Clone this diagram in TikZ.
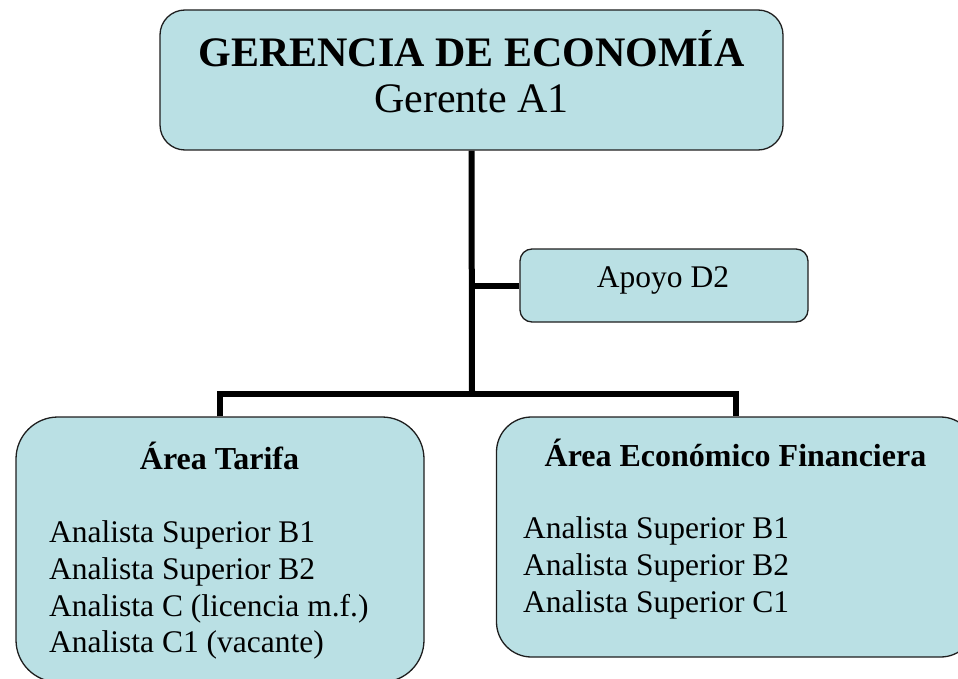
\documentclass[tikz,border=0pt]{standalone}
\usepackage{fontspec}
\setmainfont{Liberation Serif}
\usetikzlibrary{backgrounds}
\definecolor{boxfill}{RGB}{186,224,228}
\definecolor{boxline}{RGB}{30,30,30}
\tikzset{
  orgbox/.style={draw=boxline, line width=1.3pt, fill=boxfill, inner sep=0pt},
  conn/.style={draw=black, line width=6pt, line join=miter},
  lbl/.style={inner sep=0pt, anchor=base},
  lbll/.style={inner sep=0pt, anchor=base west},
}
\begin{document}
\begin{tikzpicture}[x=1pt,y=1pt]
\useasboundingbox (0,0) rectangle (958,-679);
% boxes
\node[orgbox, rounded corners=25pt, minimum width=623pt, minimum height=140pt] (top) at (471.5,-80) {};
\node[orgbox, rounded corners=12pt, minimum width=288pt, minimum height=73pt] (apoyo) at (664,-285.5) {};
\node[orgbox, rounded corners=42pt, minimum width=408pt, minimum height=265pt] (lbox) at (220,-549.5) {};
\node[orgbox, rounded corners=35pt, minimum width=479pt, minimum height=240pt] (rbox) at (736,-537) {};
% texts
\node[lbl] (t1) at (471.5,-67) {\fontsize{42}{50}\selectfont\bfseries GERENCIA DE ECONOMÍA};
\node[lbl] (t2) at (471.5,-113) {\fontsize{42}{50}\selectfont Gerente A1};
\node[lbl] (ta) at (663,-287) {\fontsize{31.5}{36}\selectfont Apoyo D2};
\node[lbl] (lt) at (219.5,-469) {\fontsize{32}{36}\selectfont\bfseries Área Tarifa};
\node[lbll] (l1) at (49,-542) {\fontsize{31.5}{36}\selectfont Analista Superior B1};
\node[lbll] (l2) at (49,-579) {\fontsize{31.5}{36}\selectfont Analista Superior B2};
\node[lbll] (l3) at (49,-616) {\fontsize{31.5}{36}\selectfont Analista C (licencia m.f.)};
\node[lbll] (l4) at (49,-652) {\fontsize{31.5}{36}\selectfont Analista C1 (vacante)};
\node[lbl] (rt) at (735.5,-466) {\fontsize{32}{36}\selectfont\bfseries Área Económico Financiera};
\node[lbll] (r1) at (523,-538) {\fontsize{31.5}{36}\selectfont Analista Superior B1};
\node[lbll] (r2) at (523,-575) {\fontsize{31.5}{36}\selectfont Analista Superior B2};
\node[lbll] (r3) at (523,-612) {\fontsize{31.5}{36}\selectfont Analista Superior C1};
% connectors
\coordinate (j) at (472,-393.7);
\begin{scope}[on background layer]
\draw[conn] (top.south) -- (j);
\draw[conn] (top.south |- apoyo.west) -- (apoyo.west);
\draw[conn] (lbox.north) |- (j) -| (rbox.north);
\end{scope}
\end{tikzpicture}
\end{document}
